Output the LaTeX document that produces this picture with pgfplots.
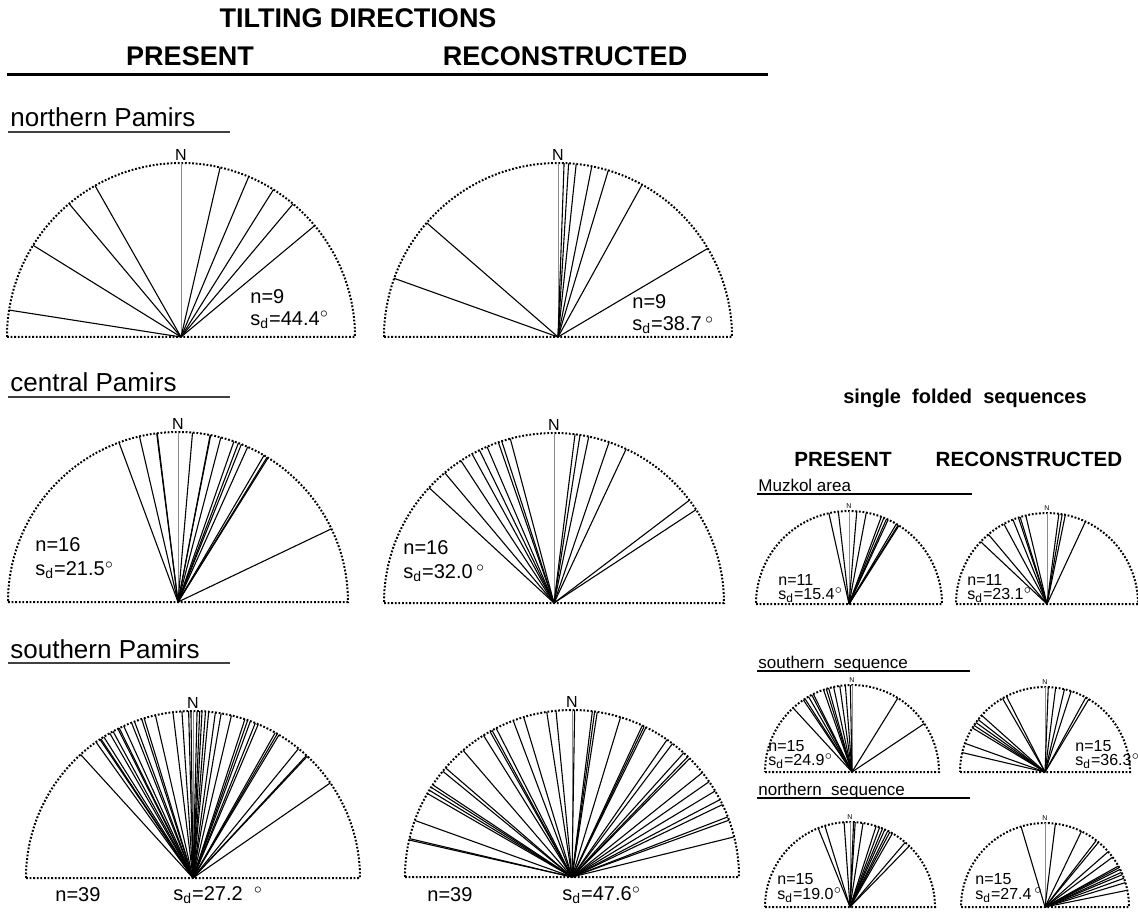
\documentclass[border=0pt]{standalone}
\usepackage{pgfplots}
\pgfplotsset{compat=1.18}
\usepackage{pgfplotstable}
\usepackage{fontspec}
\setmainfont{Liberation Sans}

% tilting azimuths in degrees, clockwise from north
\pgfplotstableread[row sep=\\]{az\\ -81.1\\ -58.2\\ -40.0\\ -29.6\\ 13.0\\ 22.9\\ 32.1\\ 40.1\\ 50.2\\}\northPres
\pgfplotstableread[row sep=\\]{az\\ -70.3\\ -49.0\\ 2.0\\ 3.5\\ 6.0\\ 11.2\\ 16.8\\ 28.9\\ 59.4\\}\northRec
\pgfplotstableread[row sep=\\]{az\\ -20.3\\ -13.1\\ -7.2\\ -7.0\\ 4.9\\ 10.9\\ 11.1\\ 14.6\\ 19.2\\ 20.8\\ 21.9\\ 24.2\\ 30.4\\ 31.6\\ 32.0\\ 64.5\\}\centPres
\pgfplotstableread[row sep=\\]{az\\ -47.3\\ -40.0\\ -33.2\\ -28.8\\ -26.0\\ -23.2\\ -19.1\\ -17.9\\ -14.9\\ 7.1\\ 8.8\\ 11.8\\ 18.9\\ 25.1\\ 52.8\\ 56.7\\}\centRec
\pgfplotstableread[row sep=\\]{az\\ -42.3\\ -35.5\\ -33.9\\ -33.5\\ -32.3\\ -29.9\\ -28.6\\ -26.7\\ -26.2\\ -24.5\\ -21.6\\ -20.5\\ -17.9\\ -17.0\\ -13.0\\ -6.9\\ -3.8\\ -1.5\\ -0.7\\ 1.4\\ 2.3\\ 3.1\\ 4.3\\ 5.4\\ 7.7\\ 9.7\\ 13.3\\ 18.1\\ 19.1\\ 20.1\\ 21.9\\ 23.0\\ 29.5\\ 30.3\\ 31.0\\ 39.2\\ 42.8\\ 43.2\\ 55.3\\}\southPres
\pgfplotstableread[row sep=\\]{az\\ -77.2\\ -76.7\\ -70.2\\ -60.0\\ -58.7\\ -57.5\\ -56.5\\ -50.7\\ -49.2\\ -40.7\\ -32.0\\ -29.4\\ -28.6\\ -27.0\\ -20.6\\ -16.8\\ -8.7\\ -5.5\\ 0.9\\ 7.0\\ 7.8\\ 8.7\\ 16.9\\ 24.9\\ 25.6\\ 26.3\\ 34.7\\ 37.0\\ 42.0\\ 43.9\\ 44.8\\ 51.3\\ 55.2\\ 59.0\\ 62.4\\ 64.3\\ 68.9\\ 70.1\\ 76.1\\}\southRec
\pgfplotstableread[row sep=\\]{az\\ -12.5\\ -6.6\\ 4.8\\ 10.7\\ 20.3\\ 22.0\\ 23.8\\ 24.9\\ 30.6\\ 31.9\\ 32.5\\}\muzPres
\pgfplotstableread[row sep=\\]{az\\ -46.8\\ -40.1\\ -28.3\\ -22.0\\ -18.3\\ -17.2\\ -13.5\\ 7.5\\ 9.6\\ 11.6\\ 25.0\\}\muzRec
\pgfplotstableread[row sep=\\]{az\\ -42.6\\ -34.0\\ -32.7\\ -30.0\\ -27.6\\ -26.4\\ -19.1\\ -17.2\\ -15.6\\ -12.2\\ -8.1\\ -4.4\\ -1.1\\ 31.8\\ 56.2\\}\sseqPres
\pgfplotstableread[row sep=\\]{az\\ -76.8\\ -70.3\\ -58.7\\ -56.7\\ -54.4\\ -51.9\\ -48.2\\ -30.0\\ -27.0\\ 2.2\\ 7.2\\ 13.2\\ 17.9\\ 28.7\\ 31.0\\}\sseqRec
\pgfplotstableread[row sep=\\]{az\\ -22.0\\ -17.2\\ -4.0\\ 2.4\\ 3.5\\ 8.8\\ 17.9\\ 20.4\\ 22.5\\ 24.2\\ 26.4\\ 28.0\\ 29.9\\ 40.5\\ 44.2\\}\nseqPres
\pgfplotstableread[row sep=\\]{az\\ -16.6\\ 7.1\\ 25.7\\ 37.6\\ 39.6\\ 48.8\\ 53.6\\ 60.8\\ 62.0\\ 63.4\\ 65.6\\ 67.3\\ 70.0\\ 73.1\\ 78.5\\}\nseqRec

\tikzset{
  rim/.style={line width=1pt, dash pattern=on 0.9pt off 0.9pt},
  fs/.style={font=\fontsize{#1}{#1}\selectfont},
  fsb/.style={font=\bfseries\fontsize{#1}{#1}\selectfont},
}

% half rose: centre x, centre y (px from top left), radius (px), azimuth table, N label size
\newcommand{\rose}[5]{%
  \pgfmathsetlengthmacro\rw{#3*1pt}%
  \pgfmathsetlengthmacro\rh{#3*0.5pt}%
  \pgfmathsetlengthmacro\ax{(#1-#3)*0.5pt}%
  \pgfmathsetlengthmacro\ay{-#2*0.5pt}%
  \begin{axis}[at={(\ax,\ay)}, anchor=south west, scale only axis,
      width=\rw, height=\rh, xmin=-1, xmax=1, ymin=0, ymax=1,
      hide axis, clip=false]
    \draw[rim] (axis cs:-1,0) -- (axis cs:1,0) arc[start angle=0, end angle=180, radius=\rh];
    \draw[black!45, line width=0.5pt] (axis cs:0,0) -- (axis cs:0,1);
    \addplot[black, line width=0.55pt,
      quiver={u={sin(\thisrow{az})}, v={cos(\thisrow{az})}}]
      table[x=az, y=az, x expr=0, y expr=0] {#4};
    \node[anchor=south, inner sep=1pt, fs=#5] at (axis cs:0,1) {N};
  \end{axis}}

\begin{document}
\begin{tikzpicture}[x=0.5pt, y=-0.5pt]
  \path[use as bounding box] (0,0) rectangle (1138,913);

  % headings
  \node[fsb=13.5] at (358,18) {TILTING DIRECTIONS};
  \node[fsb=13.5] at (190,56) {PRESENT};
  \node[fsb=13.5] at (565,56) {RECONSTRUCTED};
  \draw[line width=1.5pt] (7,75) -- (768,75);

  \node[fs=13, anchor=base west, inner sep=0] at (10,127) {northern Pamirs};
  \draw[line width=0.8pt, black!75] (8,132) -- (230,132);
  \node[fs=13, anchor=base west, inner sep=0] at (10,392) {central Pamirs};
  \draw[line width=0.8pt, black!75] (8,397) -- (230,397);
  \node[fs=13, anchor=base west, inner sep=0] at (10,658) {southern Pamirs};
  \draw[line width=0.8pt, black!75] (8,663) -- (230,663);

  \node[fsb=10] at (965,398) {single\ \ folded\ \ sequences};
  \node[fsb=10.3] at (843,459) {PRESENT};
  \node[fsb=10.3] at (1029,459) {RECONSTRUCTED};

  \node[fs=8.5, anchor=base west, inner sep=0] at (758,491) {Muzkol area};
  \draw[line width=0.6pt] (757,494) -- (972,494);
  \node[fs=8.5, anchor=base west, inner sep=0] at (758,668) {southern\ \ sequence};
  \draw[line width=0.6pt] (757,671) -- (970,671);
  \node[fs=8.5, anchor=base west, inner sep=0] at (758,795) {northern\ \ sequence};
  \draw[line width=0.6pt] (757,798) -- (970,798);

  % roses
  \rose{181}{337}{174}{\northPres}{8}
  \rose{558}{337}{174}{\northRec}{8}
  \rose{178}{602}{170}{\centPres}{8}
  \rose{554}{603}{170}{\centRec}{8}
  \rose{193}{878}{167}{\southPres}{8}
  \rose{572}{877}{167}{\southRec}{8}
  \rose{849}{604}{93}{\muzPres}{3.5}
  \rose{1047}{604}{91}{\muzRec}{3.5}
  \rose{852}{772}{87}{\sseqPres}{3.5}
  \rose{1045}{772}{85}{\sseqRec}{3.5}
  \rose{850}{907}{85}{\nseqPres}{3.5}
  \rose{1045}{907}{84}{\nseqRec}{3.5}

  % sample sizes and dispersions
  \tikzset{big/.style={fs=10, anchor=west, inner sep=0}, small/.style={fs=8, anchor=west, inner sep=0}}
  \node[big] at (250,297) {n=9};
  \node[big] at (250,320) {s\textsubscript{d}=44.4$^\circ$};
  \node[big] at (632,302) {n=9};
  \node[big] at (632,325) {s\textsubscript{d}=38.7\,$^\circ$};
  \node[big] at (35,545) {n=16};
  \node[big] at (35,570) {s\textsubscript{d}=21.5$^\circ$};
  \node[big] at (403,548) {n=16};
  \node[big] at (403,573) {s\textsubscript{d}=32.0\,$^\circ$};
  \node[big] at (55,895) {n=39};
  \node[big] at (173,895) {s\textsubscript{d}=27.2\ \ $^\circ$};
  \node[big] at (427,895) {n=39};
  \node[big] at (562,895) {s\textsubscript{d}=47.6$^\circ$};

  \node[small] at (778,580) {n=11};
  \node[small] at (778,595) {s\textsubscript{d}=15.4$^\circ$};
  \node[small] at (967,580) {n=11};
  \node[small] at (967,595) {s\textsubscript{d}=23.1$^\circ$};
  \node[small] at (768,746) {n=15};
  \node[small] at (768,761) {s\textsubscript{d}=24.9$^\circ$};
  \node[small] at (1075,746) {n=15};
  \node[small] at (1075,761) {s\textsubscript{d}=36.3$^\circ$};
  \node[small] at (777,879) {n=15};
  \node[small] at (777,895) {s\textsubscript{d}=19.0$^\circ$};
  \node[small] at (975,879) {n=15};
  \node[small] at (975,895) {s\textsubscript{d}=27.4\,$^\circ$};
\end{tikzpicture}
\end{document}
